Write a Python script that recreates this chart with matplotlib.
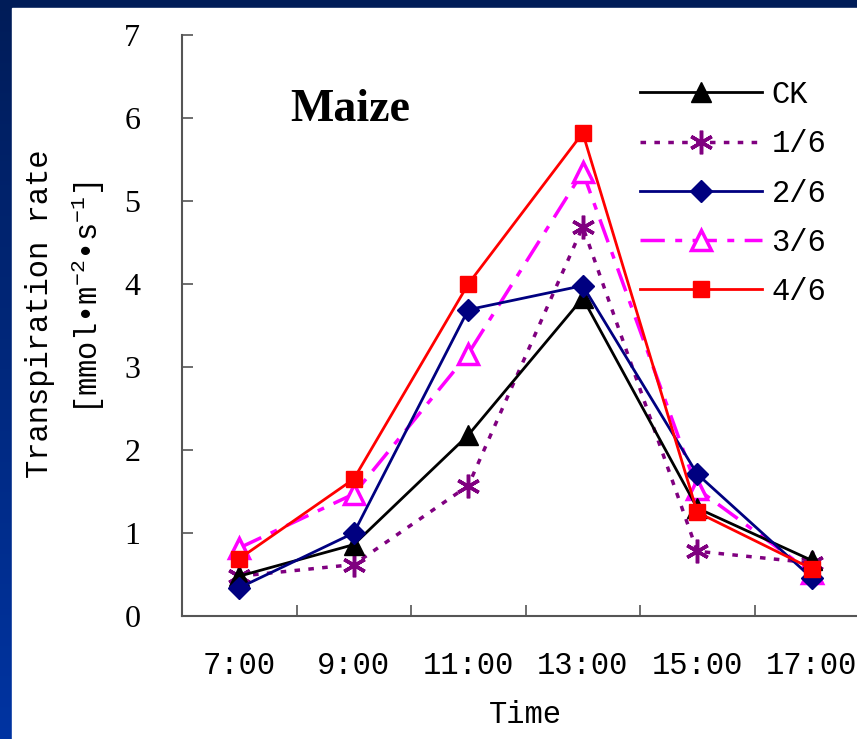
import numpy as np
import matplotlib
matplotlib.use("Agg")
import matplotlib.pyplot as plt
from matplotlib.patches import Rectangle

plt.rcParams['mathtext.fontset'] = 'custom'
plt.rcParams['mathtext.rm'] = 'Liberation Mono'

# datos
horas = ['7:00', '9:00', '11:00', '13:00', '15:00', '17:00']
ck   = [0.48, 0.86, 2.18, 3.83, 1.30, 0.67]
t1_6 = [0.48, 0.62, 1.57, 4.69, 0.78, 0.64]
t2_6 = [0.34, 1.00, 3.69, 3.98, 1.71, 0.46]
t3_6 = [0.82, 1.47, 3.16, 5.35, 1.53, 0.52]
t4_6 = [0.69, 1.65, 4.00, 5.82, 1.25, 0.57]
etiquetas = ['CK', '1/6', '2/6', '3/6', '4/6']

W, H = 857, 739
fig = plt.figure(figsize=(W / 100, H / 100), dpi=100)

# fondo azul con degradado + zona blanca
bg = fig.add_axes([0, 0, 1, 1], zorder=-10)
grad = np.linspace(0, 1, 256).reshape(-1, 1)
cmap = matplotlib.colors.LinearSegmentedColormap.from_list('b', ['#001c58', '#0034a2'])
bg.imshow(grad, aspect='auto', cmap=cmap, extent=[0, 1, 0, 1], origin='upper')
bg.add_patch(Rectangle((12 / W, 0), 1, 1 - 8 / H, color='white'))
bg.set_xlim(0, 1)
bg.set_ylim(0, 1)
bg.axis('off')

ax = fig.add_axes([182 / W, 1 - 616 / H, (869 - 182) / W, (616 - 35) / H])
ax.patch.set_alpha(0)
x = np.arange(len(horas))

ax.plot(x, ck, color='black', lw=2, marker='^', ms=15, label=etiquetas[0], zorder=3)
ax.plot(x, t1_6, color='#800080', lw=2.5, ls=(0, (1.6, 2.4)), marker=(6, 2, 0), ms=17,
        mew=2.5, label=etiquetas[1], zorder=2)
ax.plot(x, t2_6, color='#000080', lw=2, marker='D', ms=11, label=etiquetas[2], zorder=4)
ax.plot(x, t3_6, color='#ff00ff', lw=2.5, ls=(0, (7, 3, 2, 3)), marker='^', ms=14,
        mfc='white', mew=2.5, label=etiquetas[3], zorder=2)
ax.plot(x, t4_6, color='#ff0000', lw=2, marker='s', ms=12, label=etiquetas[4], zorder=5)

ax.set_xlim(-0.5, 5.5)
ax.set_ylim(0, 7)
ax.set_yticks(range(8))
ax.set_yticklabels([str(v) for v in range(8)], family='Liberation Serif', fontsize=23)
ax.set_xticks(np.arange(-0.5, 5.0, 1.0))
ax.set_xticklabels([])
ax.set_xticks(x, minor=True)
ax.set_xticklabels(horas, minor=True, family='Liberation Mono', fontsize=22)
ax.tick_params(axis='x', which='minor', length=0, pad=25)
ax.tick_params(axis='both', which='major', direction='in', length=8, width=1.2, color='#555555')
ax.tick_params(axis='y', pad=30)
for s in ['top', 'right']:
    ax.spines[s].set_visible(False)
for s in ['left', 'bottom']:
    ax.spines[s].set_color('#555555')
    ax.spines[s].set_linewidth(1.5)

fig.text(525 / W, 1 - 715 / H, 'Time', family='Liberation Mono', fontsize=22,
         ha='center', va='center')
fig.text(40 / W, 1 - 314 / H, 'Transpiration rate', family='Liberation Mono', fontsize=22,
         rotation=90, ha='center', va='center')
fig.text(88 / W, 1 - 298 / H, r'[mmol•m$^{-2}$•s$^{-1}$]', family='Liberation Mono', fontsize=22,
         rotation=90, ha='center', va='center')
fig.text(350 / W, 1 - 110 / H, 'Maize', family='Liberation Serif', fontweight='bold',
         fontsize=33, ha='center', va='center')

ax.legend(loc='upper left', bbox_to_anchor=(640 / W, 1 - 80 / H), bbox_transform=fig.transFigure,
          frameon=False, prop={'family': 'Liberation Mono', 'size': 22}, handlelength=4.0,
          numpoints=1, borderpad=0, borderaxespad=0, labelspacing=0.63, handletextpad=0.3)

fig.savefig('out.png', dpi=100)
